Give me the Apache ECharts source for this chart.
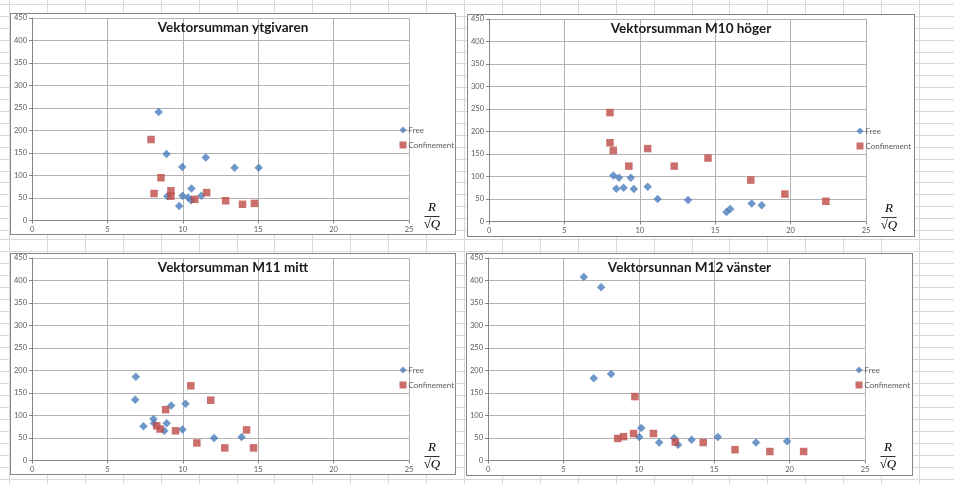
<!DOCTYPE html>
<html>
<head>
<meta charset="utf-8">
<script src="https://cdn.jsdelivr.net/npm/echarts@6/dist/echarts.min.js"></script>
<style>
  html, body { margin: 0; padding: 0; width: 954px; height: 484px; overflow: hidden; background: #fff; }
  #cols { position: absolute; left: 9px; top: 0; width: 913px; height: 484px;
    background: repeating-linear-gradient(to right, #d9d9d9 0, #d9d9d9 1px, transparent 1px, transparent 37.92px); }
  #rowsTop { position: absolute; left: 0; top: 4px; width: 954px; height: 236px;
    background: repeating-linear-gradient(to bottom, #d9d9d9 0, #d9d9d9 1px, transparent 1px, transparent 11.9px); }
  #rowsBot { position: absolute; left: 0; top: 239px; width: 954px; height: 245px;
    background: repeating-linear-gradient(to bottom, #d9d9d9 0, #d9d9d9 1px, transparent 1px, transparent 12px); }
  .panel { position: absolute; border: 1px solid #868686; background: #fff; box-sizing: border-box; }
</style>
</head>
<body>
<div id="cols"></div>
<div id="rowsTop"></div>
<div id="rowsBot"></div>
<div id="c1" class="panel" style="left:10px;top:13px;width:446px;height:222px"></div>
<div id="c2" class="panel" style="left:467px;top:14px;width:448px;height:223px"></div>
<div id="c3" class="panel" style="left:10px;top:253px;width:446px;height:222px"></div>
<div id="c4" class="panel" style="left:466px;top:253px;width:447px;height:223px"></div>
<script>
// axis ticks
const xTicks = [0, 5, 10, 15, 20, 25];
const yTicks = [0, 50, 100, 150, 200, 250, 300, 350, 400, 450];

// Vektorsumman ytgivaren
const ytFreeX = [8.40, 8.92, 9.96, 11.52, 13.43, 15.03, 10.57, 9.98, 10.35, 10.55, 11.23, 8.97, 9.76];
const ytFreeY = [241, 148, 119, 140, 117, 117, 71, 55, 51, 45, 55, 54, 32];
const ytConfX = [7.89, 8.09, 8.55, 9.21, 9.21, 10.79, 11.58, 12.84, 13.96, 14.75];
const ytConfY = [180, 60, 95, 66, 54, 47, 62, 44, 36, 38];

// Vektorsumman M10 höger
const m10FreeX = [8.24, 8.62, 9.40, 8.44, 8.92, 9.60, 10.52, 11.18, 13.20, 15.75, 15.99, 17.42, 18.08];
const m10FreeY = [102, 97, 97, 73, 75, 72, 77, 50, 48, 21, 28, 40, 36];
const m10ConfX = [8.02, 8.02, 8.24, 9.27, 10.52, 12.28, 14.52, 17.36, 19.62, 22.34];
const m10ConfY = [242, 175, 158, 123, 162, 123, 141, 92, 61, 45];

// Vektorsumman M11 mitt
const m11FreeX = [6.88, 6.84, 7.39, 8.05, 8.09, 8.77, 8.93, 9.23, 10.18, 9.98, 12.07, 13.90];
const m11FreeY = [186, 135, 76, 92, 83, 66, 83, 122, 126, 69, 50, 52];
const m11ConfX = [8.27, 8.49, 8.86, 9.52, 10.53, 10.93, 11.85, 12.78, 14.23, 14.69];
const m11ConfY = [77, 70, 113, 66, 166, 39, 134, 28, 68, 28];

// Vektorsunnan M12 vänster
const m12FreeX = [6.35, 7.50, 7.01, 8.16, 10.16, 10.03, 11.35, 12.34, 12.60, 13.50, 15.24, 17.77, 19.83];
const m12FreeY = [408, 385, 183, 192, 72, 52, 40, 50, 35, 46, 52, 40, 43];
const m12ConfX = [9.74, 8.60, 8.99, 9.65, 10.97, 12.42, 14.27, 16.38, 18.69, 20.93];
const m12ConfY = [142, 49, 53, 60, 60, 41, 40, 24, 20, 20];

function zip(xs, ys) {
  return xs.map((x, i) => [x, ys[i]]);
}

function initChart(domId, title, free, conf) {
  const chart = echarts.init(document.getElementById(domId), null, { renderer: "canvas" });
  const labelStyle = { color: "#595959", fontSize: 7.5, fontFamily: "Lato" };
  const option = {
    animation: false,
    title: {
      text: title,
      left: "center",
      top: 7,
      padding: 0,
      textStyle: { fontFamily: "Lato", fontWeight: "bold", fontSize: 13.5, color: "#1a1a1a", lineHeight: 14 }
    },
    legend: {
      orient: "vertical",
      left: 388.5,
      top: 112,
      padding: 0,
      itemWidth: 7,
      itemHeight: 7,
      itemGap: 7,
      textStyle: { color: "#595959", fontSize: 8, fontFamily: "Lato", padding: [0, 0, 0, -3] },
      data: [
        { name: "Free", icon: "diamond" },
        { name: "Confinement", icon: "rect" }
      ]
    },
    grid: { left: 19, top: 4, width: 379, height: 202.5 },
    xAxis: {
      type: "value",
      min: xTicks[0],
      max: xTicks[xTicks.length - 1],
      interval: 5,
      axisLine: { lineStyle: { color: "#868686" } },
      axisTick: { show: true, length: 3, lineStyle: { color: "#868686" } },
      axisLabel: Object.assign({ margin: 5 }, labelStyle),
      splitLine: { show: true, lineStyle: { color: "#b3b3b3" } }
    },
    yAxis: {
      type: "value",
      min: yTicks[0],
      max: yTicks[yTicks.length - 1],
      interval: 50,
      axisLine: { show: true, lineStyle: { color: "#868686" } },
      axisTick: { show: true, length: 3, lineStyle: { color: "#868686" } },
      axisLabel: Object.assign({ margin: 5 }, labelStyle),
      splitLine: { show: true, lineStyle: { color: "#b3b3b3" } }
    },
    graphic: [
      { type: "text", x: 421, y: 194, style: { text: "R", font: "italic 13px 'Liberation Serif'", fill: "#000", align: "center", verticalAlign: "middle" } },
      { type: "line", shape: { x1: 413.5, y1: 202.5, x2: 428.5, y2: 202.5 }, style: { stroke: "#000", lineWidth: 0.8 } },
      { type: "text", x: 421, y: 211, style: { text: "√Q", font: "italic 13px 'Liberation Serif'", fill: "#000", align: "center", verticalAlign: "middle" } }
    ],
    series: [
      {
        name: "Free",
        type: "scatter",
        symbol: "diamond",
        symbolSize: 8.5,
        itemStyle: { color: "#4A7EBB" },
        data: free
      },
      {
        name: "Confinement",
        type: "scatter",
        symbol: "rect",
        symbolSize: 7.5,
        itemStyle: { color: "#BE4B48" },
        data: conf
      }
    ]
  };
  chart.setOption(option);
  return chart;
}

initChart("c1", "Vektorsumman ytgivaren", zip(ytFreeX, ytFreeY), zip(ytConfX, ytConfY));
initChart("c2", "Vektorsumman M10 höger", zip(m10FreeX, m10FreeY), zip(m10ConfX, m10ConfY));
initChart("c3", "Vektorsumman M11 mitt", zip(m11FreeX, m11FreeY), zip(m11ConfX, m11ConfY));
initChart("c4", "Vektorsunnan M12 vänster", zip(m12FreeX, m12FreeY), zip(m12ConfX, m12ConfY));
</script>
</body>
</html>
